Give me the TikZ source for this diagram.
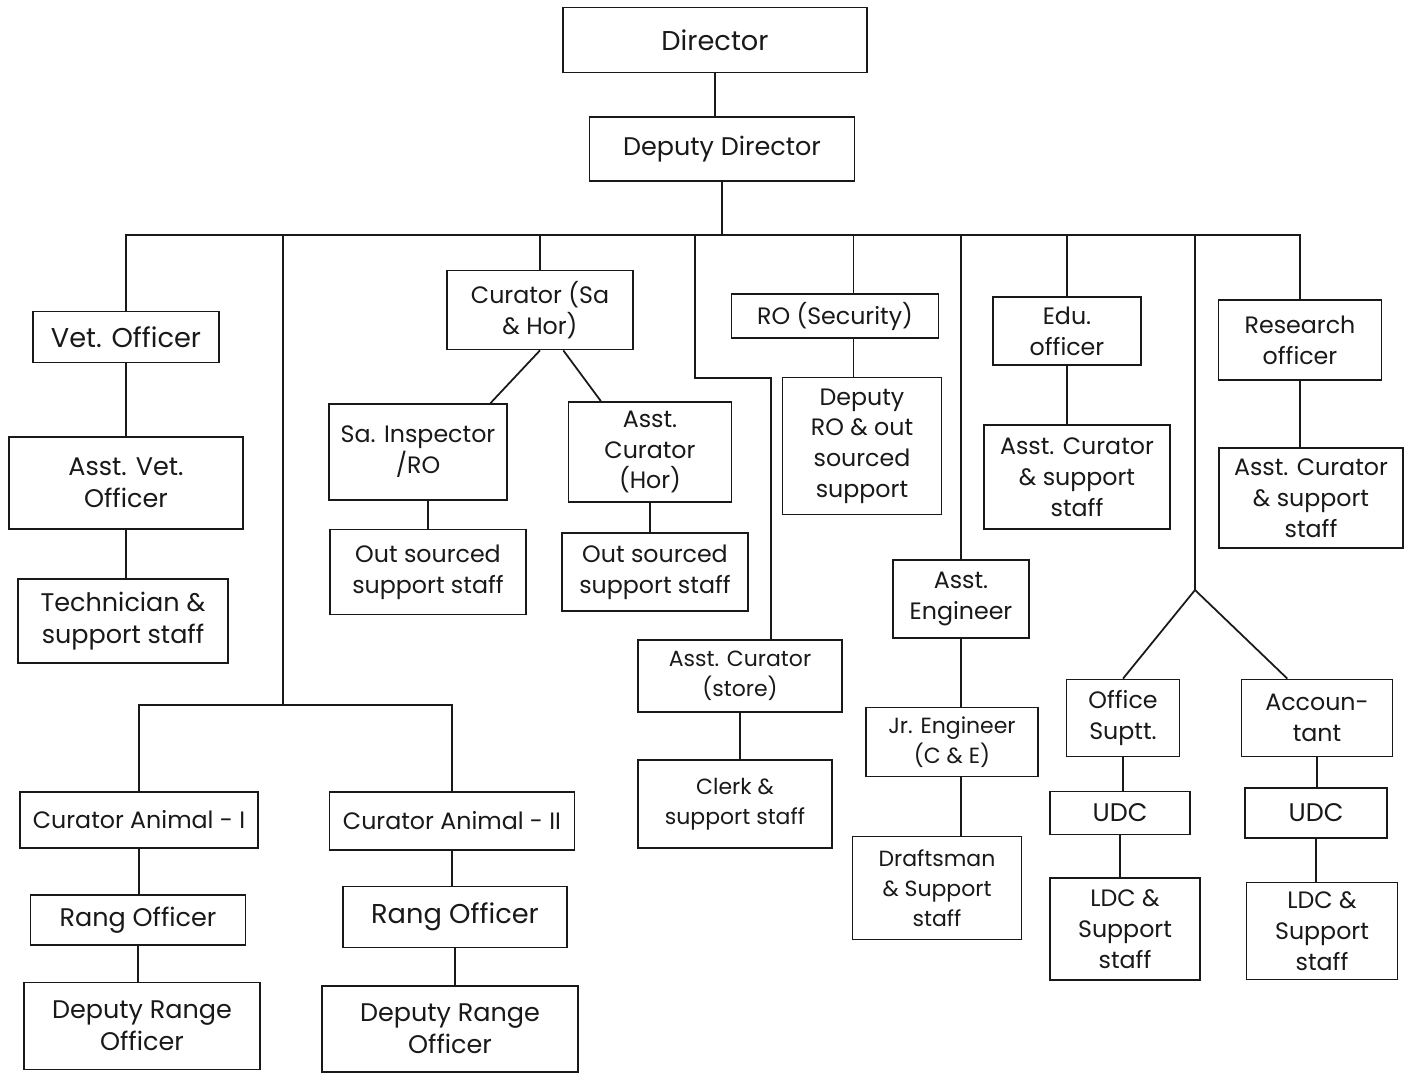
\documentclass[tikz,border=0pt]{standalone}
\usepackage{fontspec}
\setmainfont{Poppins}
\usepackage{tikz}

\tikzset{
  post/.style 2 args={draw, align=center, inner sep=1pt,
    minimum width=#1*0.02cm, minimum height=#2*0.02cm,
    font=\fontsize{13.5}{17.5}\selectfont},
  tbig/.style={font=\fontsize{15.5}{19}\selectfont},
  tmid/.style={font=\fontsize{14.5}{18}\selectfont},
  tsmall/.style={font=\fontsize{12.5}{17}\selectfont}
}

\begin{document}
\begin{tikzpicture}[x=0.02cm, y=-0.02cm, line width=1pt, color=black!90]
    \path[fill=white] (0,0) rectangle (1410,1072);
    % top
    \node[post={304}{65}, tbig] (dir) at (715,40) {Director};
    \node[post={265}{64}, tmid] (ddir) at (722,149) {Deputy Director};
    % vet branch
    \node[post={186}{51}, tbig] (vet) at (126,337) {Vet. Officer};
    \node[post={234}{92}, tmid] (avet) at (126,483) {Asst. Vet.\\Officer};
    \node[post={210}{84}, tmid] (tech) at (123,621) {Technician \&\\support staff};
    % curator sa & hor
    \node[post={186}{79}] (cursa) at (540,310) {Curator (Sa\\\& Hor)};
    \node[post={178}{96}] (sainsp) at (418,452) {Sa. Inspector\\/RO};
    \node[post={163}{100}] (ahor) at (650,452) {Asst.\\Curator\\(Hor)};
    \node[post={196}{85}] (outa) at (428,572) {Out sourced\\support staff};
    \node[post={186}{78}] (outb) at (655,572) {Out sourced\\support staff};
    % animals
    \node[post={238}{56}] (cura1) at (139,820) {Curator Animal - I};
    \node[post={245}{58}] (cura2) at (452,821) {Curator Animal - II};
    \node[post={215}{50}, tmid] (rang1) at (138,920) {Rang Officer};
    \node[post={224}{61}, tbig] (rang2) at (455,917) {Rang Officer};
    \node[post={236}{87}, tmid] (drng1) at (142,1026) {Deputy Range\\Officer};
    \node[post={256}{86}, tmid] (drng2) at (450,1029) {Deputy Range\\Officer};
    % security, store
    \node[post={207}{44}] (rosec) at (835,316) {RO (Security)};
    \node[post={159}{137}] (rodep) at (862,446) {Deputy\\RO \& out\\sourced\\support};
    \node[post={204}{72}, tsmall] (store) at (740,676) {Asst. Curator\\(store)};
    \node[post={194}{88}, tsmall] (clerk) at (735,804) {Clerk \&\\support staff};
    % engineering
    \node[post={136}{78}] (aeng) at (961,599) {Asst.\\Engineer};
    \node[post={172}{69}, tsmall] (jeng) at (952,742) {Jr. Engineer\\(C \& E)};
    \node[post={169}{103}, tsmall] (draft) at (937,888) {Draftsman\\\& Support\\staff};
    % education, research
    \node[post={148}{68}] (edu) at (1067,331) {Edu.\\officer};
    \node[post={186}{104}] (acedu) at (1077,477) {Asst. Curator\\\& support\\staff};
    \node[post={163}{80}] (res) at (1300,340) {Research\\officer};
    \node[post={184}{100}] (acres) at (1311,498) {Asst. Curator\\\& support\\staff};
    % office
    \node[post={113}{77}] (osup) at (1123,718) {Office\\Suptt.};
    \node[post={140}{43}, tmid] (udca) at (1120,813) {UDC};
    \node[post={150}{102}] (ldca) at (1125,929) {LDC \&\\Support\\staff};
    \node[post={151}{77}] (acct) at (1317,718) {Accoun-\\tant};
    \node[post={142}{50}, tmid] (udcb) at (1316,813) {UDC};
    \node[post={151}{97}] (ldcb) at (1322,931) {LDC \&\\Support\\staff};

    \coordinate (bus) at (720,235);
    \coordinate (zbar) at (283,705);
    \coordinate (kink) at (695,378);
    \coordinate (fork) at (1195,590);

    \draw (dir.south) -- (dir.south |- ddir.north);
    \draw (ddir.south) |- (bus);
    \draw (vet.north) |- (bus);
    \draw (zbar) |- (bus);
    \draw (cursa.north) |- (bus);
    \draw (kink |- bus) -- (kink) -| (store.50);
    \draw (rosec.51) |- (bus);
    \draw (aeng.north) |- (bus);
    \draw (edu.north) |- (bus);
    \draw (fork) |- (bus);
    \draw (res.north) |- (bus);

    \draw (vet.south) -- (vet.south |- avet.north);
    \draw (avet.south) -- (avet.south |- tech.north);
    \draw (cursa.south) -- (sainsp.34);
    \draw (cursa.-60) -- (ahor.134);
    \draw (outa.north |- sainsp.south) -- (outa.north);
    \draw (ahor.south) -- (ahor.south |- outb.north);
    \draw (cura1.north) |- (zbar);
    \draw (cura2.north) |- (zbar);
    \draw (cura1.south) -- (cura1.south |- rang1.north);
    \draw (rang1.south) -- (rang1.south |- drng1.north);
    \draw (cura2.south) -- (cura2.south |- rang2.north);
    \draw (rang2.south) -- (rang2.south |- drng2.north);
    \draw (rosec.-51) -- (rosec.-51 |- rodep.north);
    \draw (store.south) -- (store.south |- clerk.north);
    \draw (aeng.south) -- (aeng.south |- jeng.north);
    \draw (aeng.south |- jeng.south) -- (aeng.south |- draft.north);
    \draw (edu.south) -- (edu.south |- acedu.north);
    \draw (res.south) -- (res.south |- acres.north);
    \draw (fork) -- (osup.north);
    \draw (fork) -- (acct.127);
    \draw (osup.south) -- (osup.south |- udca.north);
    \draw (udca.south) -- (udca.south |- ldca.north);
    \draw (acct.south) -- (acct.south |- udcb.north);
    \draw (udcb.south) -- (udcb.south |- ldcb.north);
\end{tikzpicture}
\end{document}
